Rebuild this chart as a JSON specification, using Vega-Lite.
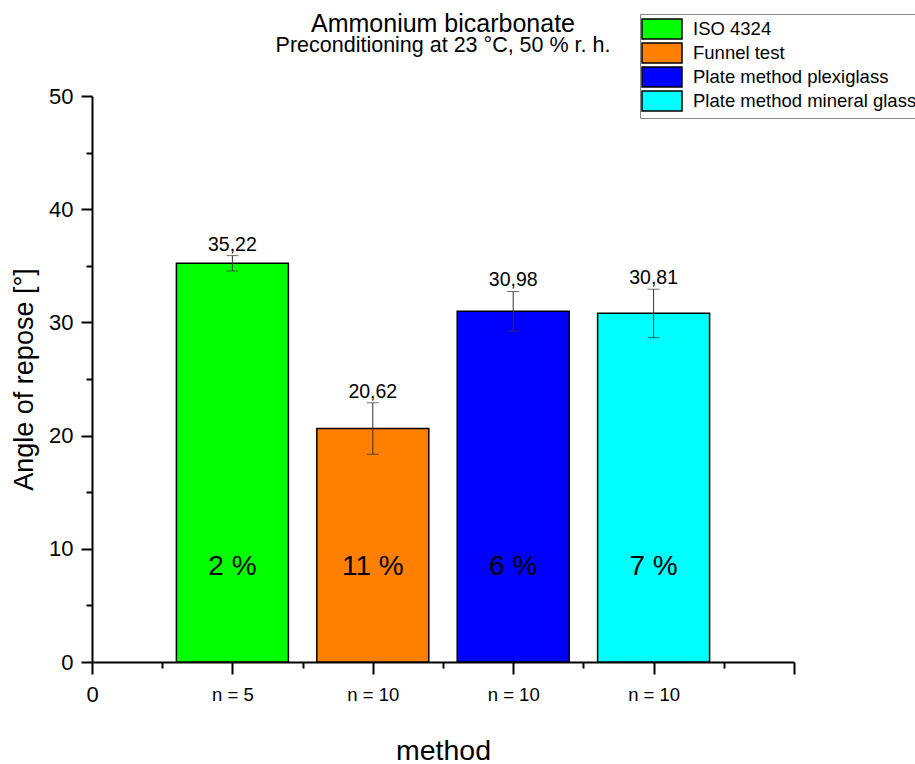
{
  "$schema": "https://vega.github.io/schema/vega-lite/v6.json",
  "width": 702,
  "height": 566,
  "autosize": {"type": "none"},
  "padding": {"left": 92, "top": 96, "right": 121, "bottom": 102},
  "background": "white",
  "title": {
    "text": "Ammonium bicarbonate",
    "subtitle": "Preconditioning at 23 °C, 50 % r. h.",
    "font": "Liberation Sans",
    "subtitleFont": "Liberation Sans",
    "fontSize": 25,
    "subtitleFontSize": 21.5,
    "fontWeight": "normal",
    "color": "black",
    "subtitleColor": "black",
    "anchor": "middle",
    "frame": "group",
    "offset": -43,
    "subtitlePadding": -2
  },
  "config": {"view": {"stroke": null}, "font": "Liberation Sans"},
  "data": {
    "values": [
      {"method": "ISO 4324", "pos": 1, "mean": 35.22, "lo": 34.54, "hi": 35.9, "label": "35,22", "cv": "2 %", "n": "n = 5"},
      {"method": "Funnel test", "pos": 2, "mean": 20.62, "lo": 18.35, "hi": 22.9, "label": "20,62", "cv": "11 %", "n": "n = 10"},
      {"method": "Plate method plexiglass", "pos": 3, "mean": 30.98, "lo": 29.23, "hi": 32.73, "label": "30,98", "cv": "6 %", "n": "n = 10"},
      {"method": "Plate method mineral glass", "pos": 4, "mean": 30.81, "lo": 28.65, "hi": 32.93, "label": "30,81", "cv": "7 %", "n": "n = 10"}
    ]
  },
  "layer": [
    {
      "mark": {"type": "bar", "width": 112, "stroke": "black", "strokeWidth": 1.5, "opacity": 1},
      "encoding": {
        "x": {
          "field": "pos", "type": "quantitative",
          "scale": {"domain": [0, 5], "nice": false, "zero": false, "padding": 0},
          "axis": {
            "values": [0, 0.5, 1, 1.5, 2, 2.5, 3, 3.5, 4, 4.5, 5],
            "labelExpr": "datum.value === 0 ? '0' : datum.value === 1 ? 'n = 5' : (datum.value === 2 || datum.value === 3 || datum.value === 4) ? 'n = 10' : ''",
            "labelFontSize": {"condition": {"test": "datum.value === 0", "value": 22}, "value": 18.5},
            "labelFont": "Liberation Sans",
            "labelColor": "black",
            "labelBaseline": "middle",
            "labelPadding": 20,
            "labelFlush": false,
            "labelOverlap": false,
            "tickSize": {"condition": {"test": "datum.value % 1 === 0", "value": 12}, "value": 6},
            "tickWidth": 2,
            "tickColor": "black",
            "domainColor": "black",
            "domainWidth": 2,
            "grid": false,
            "title": "method",
            "titleFont": "Liberation Sans",
            "titleFontSize": 28.5,
            "titleFontWeight": "normal",
            "titleColor": "black",
            "titlePadding": 31
          }
        },
        "y": {
          "field": "mean", "type": "quantitative",
          "title": "Angle of repose [°]",
          "scale": {"domain": [0, 50], "nice": false},
          "axis": {
            "values": [0, 5, 10, 15, 20, 25, 30, 35, 40, 45, 50],
            "labelExpr": "datum.value % 10 === 0 ? datum.label : ''",
            "labelFontSize": 22,
            "labelFont": "Liberation Sans",
            "labelColor": "black",
            "labelPadding": 8,
            "labelFlush": false,
            "labelOverlap": false,
            "tickSize": {"condition": {"test": "datum.value % 10 === 0", "value": 11}, "value": 6},
            "tickWidth": 2,
            "tickColor": "black",
            "domainColor": "black",
            "domainWidth": 2,
            "grid": false,
            "titleFont": "Liberation Sans",
            "titleFontSize": 27,
            "titleFontWeight": "normal",
            "titleColor": "black",
            "titlePadding": 10
          }
        },
        "color": {
          "field": "method", "type": "nominal",
          "scale": {
            "domain": ["ISO 4324", "Funnel test", "Plate method plexiglass", "Plate method mineral glass"],
            "range": ["#00FF00", "#FF8000", "#0000FF", "#00FFFF"]
          },
          "legend": {
            "orient": "none",
            "legendX": 548,
            "legendY": -82,
            "direction": "vertical",
            "title": null,
            "fillColor": "white",
            "strokeColor": "#888888",
            "padding": 4,
            "symbolType": "M-2,-1H2V1H-2Z",
            "symbolSize": 400,
            "symbolOffset": 7,
            "symbolStrokeColor": "black",
            "symbolStrokeWidth": 1.5,
            "symbolOpacity": 1,
            "labelFont": "Liberation Sans",
            "labelFontSize": 18.5,
            "labelColor": "black",
            "labelOffset": 20,
            "rowPadding": -4,
            "labelLimit": 300
          }
        }
      }
    },
    {
      "mark": {"type": "errorbar", "ticks": {"size": 12, "color": "#333333"}, "rule": {"color": "#333333"}, "thickness": 1},
      "encoding": {
        "x": {"field": "pos", "type": "quantitative"},
        "y": {"field": "lo", "type": "quantitative", "title": "Angle of repose [°]"},
        "y2": {"field": "hi"}
      }
    },
    {
      "mark": {"type": "text", "baseline": "alphabetic", "dy": -5, "fontSize": 19.5, "font": "Liberation Sans", "color": "black"},
      "encoding": {
        "x": {"field": "pos", "type": "quantitative"},
        "y": {"field": "hi", "type": "quantitative", "title": "Angle of repose [°]"},
        "text": {"field": "label"}
      }
    },
    {
      "mark": {"type": "text", "baseline": "middle", "fontSize": 28, "font": "Liberation Sans", "color": "black"},
      "encoding": {
        "x": {"field": "pos", "type": "quantitative"},
        "y": {"datum": 8.4},
        "text": {"field": "cv"}
      }
    }
  ]
}
